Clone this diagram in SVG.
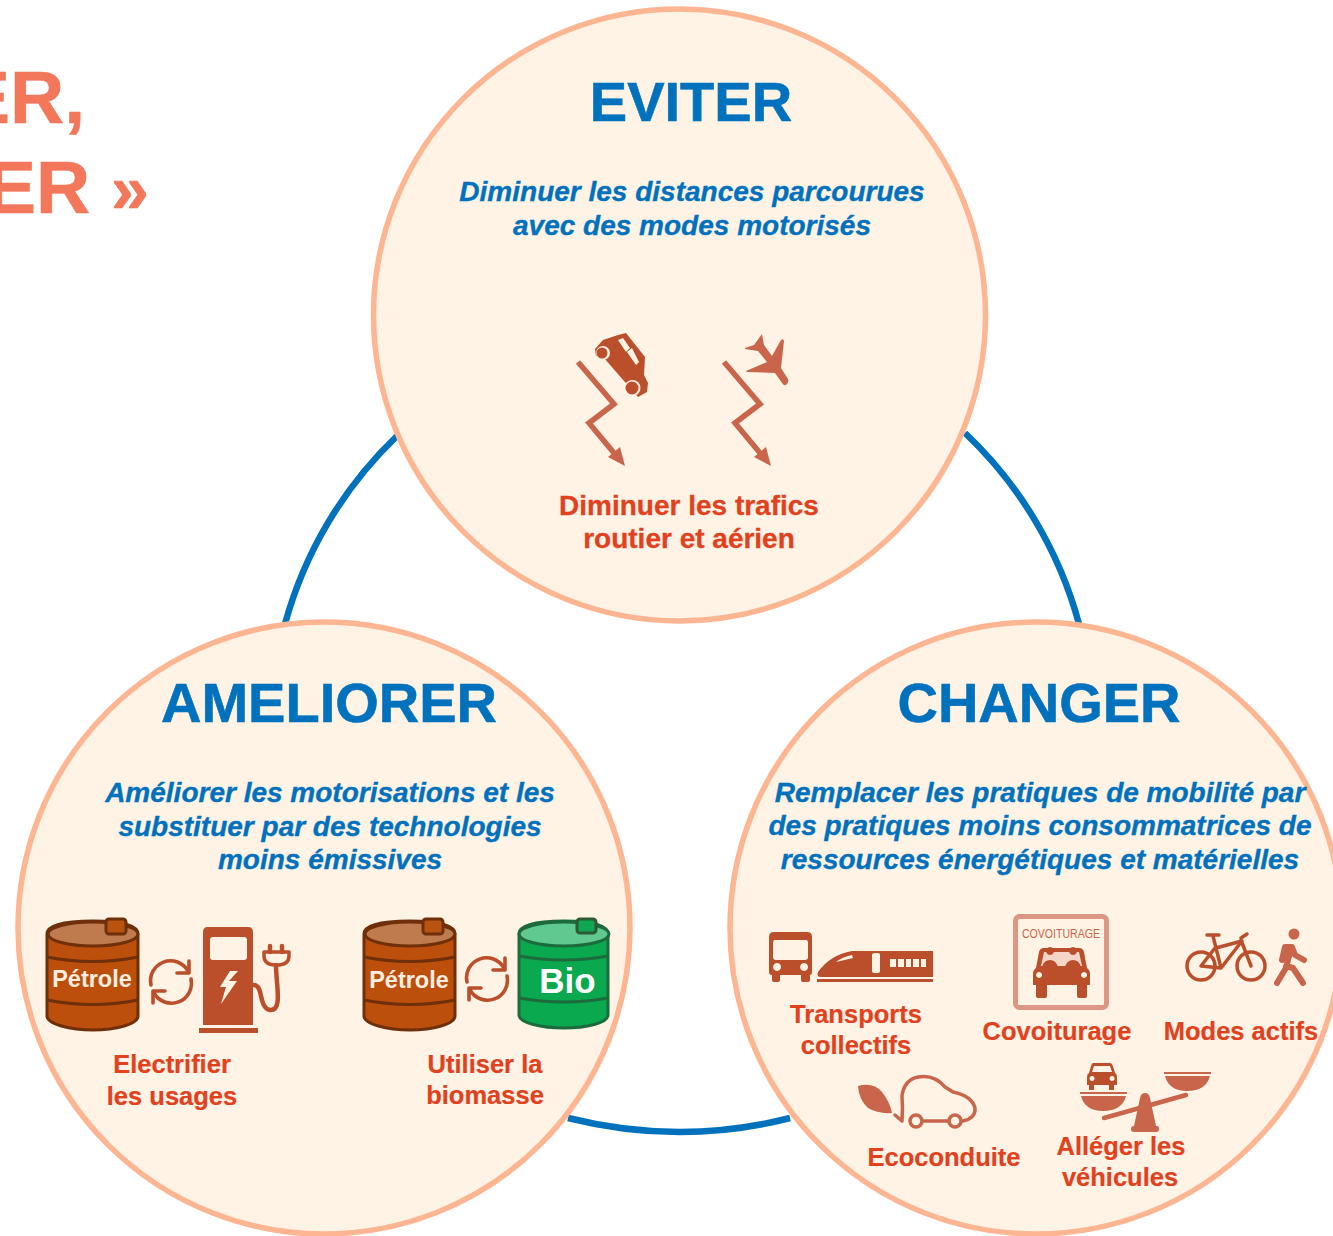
<svg xmlns="http://www.w3.org/2000/svg" width="1333" height="1236" viewBox="0 0 1333 1236">
<style>
text{font-family:"Liberation Sans",Arial,sans-serif;font-weight:bold}
.c{fill:#fef3e5;stroke:#fdb592;stroke-width:5.500}
.arc{fill:none;stroke:#0071bd;stroke-width:6.500}
.h{font-size:56px;fill:#0071bd;stroke:#0071bd;stroke-width:.6;text-anchor:middle}
.b{font-size:28px;font-style:italic;fill:#0071bd;stroke:#0071bd;stroke-width:.35;text-anchor:middle}
.r{font-size:28px;fill:#e2411e;stroke:#e2411e;stroke-width:.3;text-anchor:middle}
.s{font-size:25.500px;fill:#e2411e;stroke:#e2411e;stroke-width:.2;text-anchor:middle}
.t{font-size:75px;fill:#f3785b;stroke:#f3785b;stroke-width:.6}
.i{fill:#bc4f2b}
.l{fill:#c9654a}
.z{fill:none;stroke:#c9654a;stroke-width:5.500}
.st{fill:none;stroke:#bc4f2b;stroke-linecap:round;stroke-linejoin:round}
.ls{fill:none;stroke:#c9654a;stroke-linecap:round;stroke-linejoin:round}
.bg{fill:#fef3e5}
</style>
<defs>
<g id="barrel">
<path d="M47 934C47 924 70 921 93 921C116 921 138 924 138 934V1016C138 1024 116 1030 93 1030C70 1030 47 1024 47 1016Z" fill="#bd4f0c" stroke="#6e2f0a" stroke-width="3"/>
<ellipse cx="93" cy="934" rx="45" ry="12" fill="#bf7b4d" stroke="#6e2f0a" stroke-width="3"/>
<path d="M47 957Q93 966 138 957M47 1000Q93 1009 138 1000" fill="none" stroke="#6e2f0a" stroke-width="3"/>
<rect x="106" y="919" width="20" height="15" rx="3" fill="#b8540f" stroke="#6e2f0a" stroke-width="3"/>
</g>
<g id="sync">
<path class="st" stroke-width="3.600" d="M-20 3A20 20 0 0 1 17 -11M20 -3A20 20 0 0 1 -17 11"/>
<path class="st" stroke-width="3.600" d="M6 -9H18V-21M-6 9H-18V21"/>
</g>
<path id="zig" d="M578 362L614 404L589 423L619 459"/>
</defs>
<rect width="1333" height="1236" fill="#fff"/>
<g id="title">
<text class="t" x="-40" y="123">ER,</text>
<text class="t" x="-14" y="213">ER <tspan font-size="68">»</tspan></text>
</g>
<g id="connectors">
<path class="arc" d="M397 436A410 410 0 0 0 285 624"/>
<path class="arc" d="M965 433A410 410 0 0 1 1079 624"/>
<path class="arc" d="M568 1118Q680 1146 790 1118"/>
</g>
<g id="eviter">
<circle class="c" cx="679.500" cy="315" r="306"/>
<text class="h" x="691" y="121">EVITER</text>
<text class="b" x="692" y="201">Diminuer les distances parcourues</text>
<text class="b" x="692" y="235">avec des modes motorisés</text>
<path class="i" fill-rule="evenodd" d="M595 349L603 340L618 335L626 333L645 357L644 375L648 383L647 392L638 397L604 358L596 356ZM618 340L623 338L630 348L626 352ZM627 352L632 348L639 362L636 365Z"/>
<circle class="bg" cx="603" cy="353" r="7"/>
<circle class="i" cx="602" cy="353" r="5.500"/>
<circle class="bg" cx="632.500" cy="388" r="8"/>
<circle class="i" cx="632" cy="388" r="6.500"/>
<use href="#zig" class="z"/>
<path class="l" d="M608 457L620 447L625 466Z"/>
<use href="#zig" class="z" transform="translate(146 0)"/>
<path class="l" d="M754 457L766 447L771 466Z"/>
<path class="l" d="M762 334L764 345L772 356L781 340Q783 338 784 341L781 368L788 379Q789 383 786 385Q784 386 782 383L775 373L747 372L746 371L767 362L758 351L745 349L745 348L754 345Z"/>
<text class="r" x="689" y="515">Diminuer les trafics</text>
<text class="r" x="689" y="548">routier et aérien</text>
</g>
<g id="ameliorer">
<circle class="c" cx="324" cy="928" r="306"/>
<text class="h" x="329" y="722">AMELIORER</text>
<text class="b" x="330" y="802">Améliorer les motorisations et les</text>
<text class="b" x="330" y="836">substituer par des technologies</text>
<text class="b" x="330" y="869">moins émissives</text>
<use href="#barrel"/>
<text x="92" y="987" font-size="23.500" fill="#fdeee0" text-anchor="middle">Pétrole</text>
<use href="#sync" transform="translate(171 982)"/>
<path class="i" fill-rule="evenodd" d="M208 927H248Q253 927 253 932V1025H203V932Q203 927 208 927ZM213 937Q210 937 210 940V957Q210 960 213 960H244Q247 960 247 957V940Q247 937 244 937ZM230 971L220 987H226L221 1004L237 981H229L238 971Z"/>
<rect class="i" x="199" y="1028" width="59" height="5"/>
<path class="st" stroke-width="4.500" d="M253 985C264 984 258 1008 270 1010C283 1011 276 985 276 965"/>
<path class="st" stroke-width="3.500" d="M264 952H289V956Q289 964 279 965H274Q264 964 264 956Z"/>
<path class="st" stroke-width="4.500" d="M270 946V952M282 946V952"/>
<use href="#barrel" transform="translate(317 0)"/>
<text x="409" y="988" font-size="23.500" fill="#fdeee0" text-anchor="middle">Pétrole</text>
<use href="#sync" transform="translate(487 979)"/>
<path d="M519 934C519 924 542 921 564 921C586 921 608 924 608 934V1015C608 1023 586 1028 564 1028C542 1028 519 1023 519 1015Z" fill="#0aa84f" stroke="#1d6b3c" stroke-width="3"/>
<ellipse cx="564" cy="934" rx="45" ry="12" fill="#5fc98f" stroke="#1d6b3c" stroke-width="3"/>
<path d="M519 956Q564 964 608 956M519 998Q564 1006 608 998" fill="none" stroke="#1d6b3c" stroke-width="3"/>
<rect x="577" y="919" width="19" height="14" rx="3" fill="#12a552" stroke="#2c5b33" stroke-width="3"/>
<text x="567.500" y="993" font-size="35" fill="#fff" text-anchor="middle">Bio</text>
<text class="s" x="172" y="1073">Electrifier</text>
<text class="s" x="172" y="1105">les usages</text>
<text class="s" x="485" y="1073">Utiliser la</text>
<text class="s" x="485" y="1104">biomasse</text>
</g>
<g id="changer">
<circle class="c" cx="1036" cy="928" r="306"/>
<text class="h" x="1039" y="722">CHANGER</text>
<text class="b" x="1040" y="802">Remplacer les pratiques de mobilité par</text>
<text class="b" x="1040" y="835">des pratiques moins consommatrices de</text>
<text class="b" x="1040" y="869">ressources énergétiques et matérielles</text>
<path class="i" fill-rule="evenodd" d="M774 932H807Q812 932 812 937V972Q812 975 810 975V980Q810 982 807 982H803Q801 982 801 980V975H780V980Q780 982 778 982H774Q772 982 772 980V975Q769 975 769 972V937Q769 932 774 932ZM775 940Q773 940 773 943V957Q773 960 776 960H805Q808 960 808 957V943Q808 940 806 940ZM777 963A4 4 0 1 0 777.100 963ZM804 963A4 4 0 1 0 804.100 963Z"/>
<path class="i" fill-rule="evenodd" d="M852 951H933V977H821Q816 977 818 972Q830 955 852 951ZM872 955V971Q872 973 875 973H878Q880 973 880 971V955Q880 953 878 953H875Q872 953 872 955ZM890 959V967H896V959ZM898 959V967H904V959ZM906 959V967H911V959ZM913 959V967H919V959ZM921 959V967H926V959ZM852 955Q842 957 836 962L853 958Z"/>
<rect class="i" x="817" y="979" width="116" height="3"/>
<rect x="1015.500" y="916.500" width="91" height="91" rx="4" fill="#fef3e5" stroke="#dd9584" stroke-width="5"/>
<text x="1061" y="938" font-size="13" style="font-weight:normal" fill="#c9654a" text-anchor="middle" textLength="78" lengthAdjust="spacingAndGlyphs">COVOITURAGE</text>
<path class="i" fill-rule="evenodd" d="M1044 948H1079Q1083 948 1084 952L1087 968Q1090 970 1090 974V985H1087V996Q1087 998 1085 998H1079Q1077 998 1077 996V985H1047V996Q1047 998 1045 998H1039Q1036 998 1036 996V985H1033V974Q1033 970 1036 968L1039 952Q1040 948 1044 948ZM1039 972A3 3 0 1 0 1039.100 972ZM1084 972A3 3 0 1 0 1084.100 972Z"/>
<path fill="#f4d5c6" d="M1044 952H1079L1082 966H1041Z"/>
<path class="i" d="M1050 955A4 4 0 1 1 1050.100 955ZM1042 967Q1044 960 1050 960Q1056 960 1058 967ZM1073 955A4 4 0 1 1 1073.100 955ZM1065 967Q1067 960 1073 960Q1079 960 1081 967Z"/>
<g class="st" stroke-width="3.500">
<circle cx="1201" cy="966" r="14"/>
<circle cx="1251" cy="966" r="14"/>
<path d="M1207 935H1219M1213 936L1221 968M1216 948L1242 941L1221 968L1201 966L1215 948M1241 940L1251 966M1241 938L1247 934"/>
</g>
<circle class="l" cx="1294" cy="934" r="5.500"/>
<path class="ls" stroke-width="6" d="M1282 960L1285 947H1292L1295 955L1304 960M1291 948L1286 968L1277 983M1286 966L1293 968L1303 983"/>
<path class="l" d="M858 1086Q873 1082 882 1092Q890 1102 892 1113Q878 1114 868 1108Q859 1100 858 1086Z"/>
<path class="ls" stroke-width="3.500" d="M895 1115L902 1121Q903 1108 902 1096Q904 1080 918 1077Q934 1074 945 1087L953 1092Q972 1096 975 1108Q976 1118 963 1121M922 1121H949"/>
<circle class="bg" cx="916" cy="1121" r="6" style="stroke:#c9654a;stroke-width:3.500"/>
<circle class="bg" cx="955" cy="1121" r="6" style="stroke:#c9654a;stroke-width:3.500"/>
<path class="i" fill-rule="evenodd" d="M1093 1063H1110Q1112 1063 1113 1066L1115 1073Q1117 1074 1117 1077V1085H1114V1090H1109V1085H1094V1090H1089V1085H1087V1077Q1087 1074 1089 1073L1091 1066Q1092 1063 1093 1063ZM1094 1066L1092 1072H1112L1110 1066ZM1092 1076A2.500 2.500 0 1 0 1092.100 1076ZM1112 1076A2.500 2.500 0 1 0 1112.100 1076Z"/>
<path class="l" d="M1080 1092H1127V1094H1080ZM1081 1096H1126Q1122 1111 1103 1111Q1085 1111 1081 1096ZM1164 1072H1211V1074H1164ZM1165 1076H1210Q1206 1091 1187 1091Q1169 1091 1165 1076Z"/>
<path class="ls" stroke-width="4.500" d="M1104 1118L1186 1095"/>
<path class="l" d="M1145 1093Q1149 1093 1150 1098L1156 1126H1157Q1159 1126 1159 1129Q1159 1132 1156 1132H1134Q1131 1132 1131 1129Q1131 1126 1134 1126L1140 1098Q1141 1093 1145 1093Z"/>
<text class="s" x="856" y="1023">Transports</text>
<text class="s" x="856" y="1054">collectifs</text>
<text class="s" x="1057" y="1040">Covoiturage</text>
<text class="s" x="1241" y="1040">Modes actifs</text>
<text class="s" x="944" y="1166">Ecoconduite</text>
<text class="s" x="1121" y="1155">Alléger les</text>
<text class="s" x="1120" y="1186">véhicules</text>
</g>
</svg>
